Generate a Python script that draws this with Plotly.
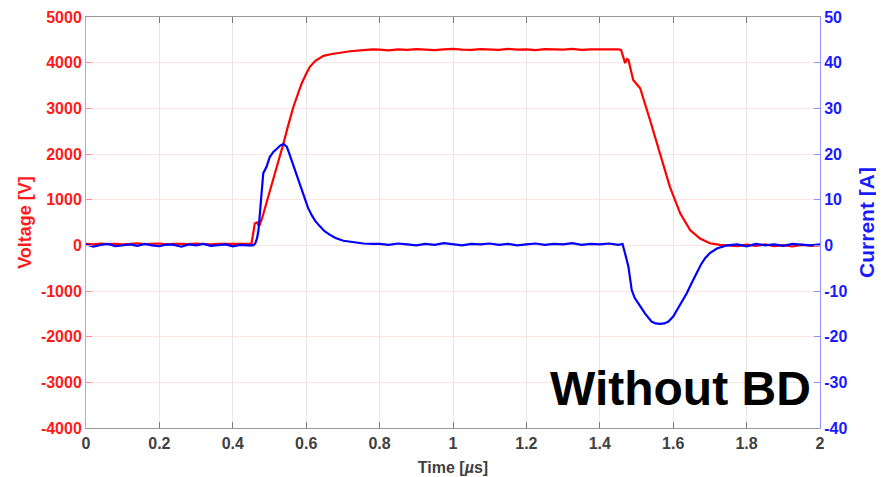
import plotly.graph_objects as go

# ---------------- data ----------------
volt_time = ([0.00, 0.02, 0.04, 0.06, 0.08, 0.10, 0.12, 0.14, 0.16, 0.18, 0.20, 0.22,
              0.24, 0.26, 0.28, 0.30, 0.32, 0.34, 0.36, 0.38, 0.40, 0.42, 0.44]
             + [0.451, 0.455, 0.460, 0.466, 0.472, 0.48, 0.50, 0.52, 0.538, 0.55, 0.565,
                0.578, 0.588, 0.60, 0.61, 0.625, 0.647, 0.67, 0.692, 0.72, 0.756, 0.78, 0.80]
             + [0.825, 0.85, 0.875, 0.90, 0.925, 0.95, 0.975, 1.00, 1.025, 1.05, 1.075, 1.10,
                1.125, 1.15, 1.175, 1.20, 1.225, 1.25, 1.275, 1.30, 1.325, 1.35, 1.375, 1.40,
                1.425, 1.45]
             + [1.458, 1.469, 1.474, 1.478, 1.491, 1.51, 1.537, 1.564, 1.591, 1.619, 1.646,
                1.673, 1.70, 1.728]
             + [1.75, 1.775, 1.80, 1.825, 1.85, 1.875, 1.90, 1.925, 1.95, 1.975, 2.00])
volt_values = ([30, 20, 40, 25, 35, 20, 30, 45, 25, 30, 40, 20, 35, 30, 25, 40, 30, 20, 35,
                30, 40, 25, 30]
               + [40, 250, 480, 500, 420, 600, 1150, 1700, 2230, 2600, 3030, 3330, 3550, 3760,
                  3910, 4040, 4150, 4190, 4220, 4250, 4275, 4290, 4285]
               + [4270, 4290, 4280, 4295, 4285, 4275, 4290, 4300, 4285, 4280, 4295, 4290, 4280,
                  4300, 4285, 4290, 4275, 4295, 4290, 4285, 4300, 4280, 4290, 4295, 4285, 4290]
               + [4280, 3990, 4080, 4060, 3620, 3440, 2740, 2010, 1280, 700, 335, 150, 45, 10]
               + [0, -20, 15, -10, 20, -15, 5, -25, 10, -5, 0])

curr_time = ([0.00, 0.02, 0.04, 0.06, 0.08, 0.10, 0.12, 0.14, 0.16, 0.18, 0.20, 0.22,
              0.24, 0.26, 0.28, 0.30, 0.32, 0.34, 0.36, 0.38, 0.40, 0.42, 0.44]
             + [0.455, 0.461, 0.466, 0.470, 0.476, 0.483, 0.492, 0.501, 0.51, 0.520, 0.53,
                0.538, 0.547, 0.553, 0.560, 0.569, 0.579, 0.588, 0.597, 0.605, 0.615, 0.625,
                0.638, 0.65, 0.665, 0.68, 0.701, 0.725, 0.756, 0.78]
             + [0.80, 0.825, 0.85, 0.875, 0.90, 0.925, 0.95, 0.975, 1.00, 1.025, 1.05, 1.075,
                1.10, 1.125, 1.15, 1.175, 1.20, 1.225, 1.25, 1.275, 1.30, 1.325, 1.35, 1.375,
                1.40, 1.425, 1.45]
             + [1.462, 1.468, 1.478, 1.487, 1.495, 1.505, 1.523, 1.541, 1.552, 1.564, 1.576,
                1.587, 1.60, 1.610, 1.623, 1.637, 1.650, 1.664, 1.675, 1.687, 1.70, 1.719,
                1.735, 1.746]
             + [1.775, 1.80, 1.825, 1.85, 1.875, 1.90, 1.925, 1.95, 1.975, 2.00])
curr_values = ([0.2, -0.3, 0.1, 0.3, -0.2, 0.0, 0.2, -0.1, 0.3, 0.0, -0.2, 0.2, 0.1, -0.3,
                0.2, 0.0, 0.3, -0.1, 0.1, 0.2, -0.2, 0.1, 0.0]
               + [0.0, 0.4, 1.5, 3.3, 9.0, 15.8, 17.2, 19.4, 20.4, 21.2, 21.9, 22.2, 21.6, 20.3,
                  18.7, 16.5, 14.3, 12.0, 9.9, 8.2, 6.6, 5.3, 4.1, 3.1, 2.3, 1.6, 1.0, 0.7, 0.4,
                  0.3]
               + [0.3, 0.1, 0.4, 0.2, 0.0, 0.3, 0.1, 0.5, 0.2, 0.0, 0.3, 0.2, 0.4, 0.1, 0.3, 0.0,
                  0.2, 0.4, 0.1, 0.3, 0.2, 0.5, 0.1, 0.3, 0.2, 0.4, 0.1]
               + [0.3, -1.5, -4.7, -9.8, -11.5, -12.7, -14.9, -16.7, -17.1, -17.2, -17.1, -16.7,
                  -15.6, -14.2, -12.4, -10.5, -8.3, -6.1, -4.3, -2.8, -1.7, -0.7, -0.2, 0.0]
               + [0.2, -0.2, 0.3, 0.0, 0.2, -0.1, 0.3, 0.1, 0.0, 0.2])

x_ticks = [0, 0.2, 0.4, 0.6, 0.8, 1, 1.2, 1.4, 1.6, 1.8, 2]
v_ticks = [-4000, -3000, -2000, -1000, 0, 1000, 2000, 3000, 4000, 5000]
i_ticks = [-40, -30, -20, -10, 0, 10, 20, 30, 40, 50]

FONT = "Arial, Liberation Sans, sans-serif"
RED = "#ff1a1a"
BLUE = "#1a1aff"
GRAY = "#404040"

fig = go.Figure()
fig.add_trace(go.Scatter(x=volt_time, y=volt_values, mode="lines",
                         line=dict(color="#ff0000", width=2.2), yaxis="y", showlegend=False))
fig.add_trace(go.Scatter(x=curr_time, y=curr_values, mode="lines",
                         line=dict(color="#0000ff", width=2.2), yaxis="y2", showlegend=False))

fig.add_annotation(text="<b>Without BD</b>", x=1.98, xref="x", y=0.095, yref="paper",
                   xanchor="right", yanchor="middle", showarrow=False,
                   font=dict(family=FONT, size=48, color="black"))

# the page adds an 8px body margin, so the figure is sized/offset to compensate
fig.update_layout(
    width=876, height=469,
    margin=dict(l=78, r=64, t=9, b=49, autoexpand=False),
    paper_bgcolor="white", plot_bgcolor="white",
    font=dict(family=FONT),
    xaxis=dict(range=[0, 2], tickvals=x_ticks, ticktext=[f"<b>{v}</b>" for v in x_ticks],
               automargin=False, ticklabelstandoff=1,
               showgrid=True, gridcolor="#e6e6e6", gridwidth=1,
               showline=True, linecolor="#9a9a9a", linewidth=1, mirror="ticks",
               ticks="inside", ticklen=6, tickcolor="#7a7a7a", zeroline=False,
               tickfont=dict(family=FONT, size=16, color=GRAY),
               title=dict(text="<b>Time [<i>µ</i>s]</b>", standoff=10,
                          font=dict(family=FONT, size=16, color=GRAY))),
    yaxis=dict(range=[-4000, 5000], tickvals=v_ticks, ticktext=[f"<b>{v}</b>" for v in v_ticks],
               automargin=False,
               showgrid=True, gridcolor="#ffe3e3", gridwidth=1,
               showline=True, linecolor="#ff9090", linewidth=1,
               ticks="inside", ticklen=6, tickcolor="#ff9090", zeroline=False,
               tickfont=dict(family=FONT, size=16, color=RED),
               title=dict(text="<b>Voltage [V]</b>", standoff=4,
                          font=dict(family=FONT, size=18, color=RED))),
    yaxis2=dict(range=[-40, 50], tickvals=i_ticks, ticktext=[f"<b>{v}</b>" for v in i_ticks],
                automargin=False,
                overlaying="y", side="right", showgrid=False,
                showline=True, linecolor="#9090ff", linewidth=1,
                ticks="inside", ticklen=6, tickcolor="#9090ff", zeroline=False,
                tickfont=dict(family=FONT, size=16, color=BLUE),
                title=dict(text="<b>Current [A]</b>", standoff=12,
                           font=dict(family=FONT, size=21, color=BLUE))),
)

fig.write_html("out.html")
